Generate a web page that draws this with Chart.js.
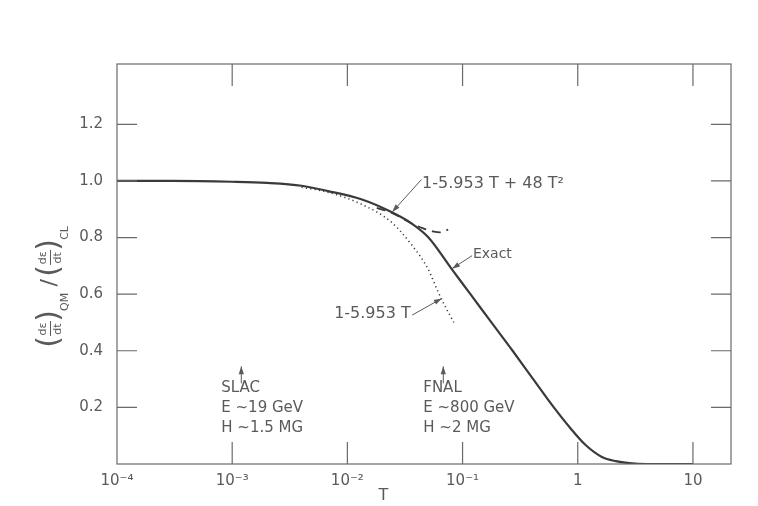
<!DOCTYPE html>
<html>
<head>
<meta charset="utf-8">
<script src="https://cdn.jsdelivr.net/npm/chart.js@4.4.1/dist/chart.umd.min.js"></script>
<style>
html,body{margin:0;padding:0;background:#fff;}
#wrap{width:758px;height:506px;position:relative;}
</style>
</head>
<body>
<div id="wrap"><canvas id="c" width="758" height="506"></canvas></div>
<script>
// ---- data ----
const exactT = [1e-4, 3e-4, 1e-3, 2e-3, 4e-3, 0.0068, 0.0132, 0.0241, 0.036, 0.0506, 0.080, 0.117, 0.178, 0.272, 0.41, 0.62, 0.85, 1.17, 1.62, 2.14, 2.8, 4, 10];
const exactY = [1.0, 1.0, 0.997, 0.993, 0.983, 0.964, 0.935, 0.890, 0.850, 0.800, 0.690, 0.600, 0.500, 0.400, 0.300, 0.200, 0.130, 0.067, 0.025, 0.010, 0.003, 0.0, 0.0];

const linT = [0.004, 0.0068, 0.0132, 0.024, 0.036, 0.050, 0.0618, 0.072, 0.084];
const linY = [0.978, 0.960, 0.918, 0.855, 0.775, 0.690, 0.605, 0.550, 0.500];

const quadT = [0.018, 0.024, 0.030, 0.036, 0.045, 0.055, 0.064, 0.075];
const quadY = [0.905, 0.888, 0.868, 0.850, 0.833, 0.822, 0.818, 0.828];

const xTickValues = [1e-4, 1e-3, 1e-2, 1e-1, 1, 10];
const xTickLabels = ['10\u207B\u2074', '10\u207B\u00B3', '10\u207B\u00B2', '10\u207B\u00B9', '1', '10'];
const yTickValues = [0.2, 0.4, 0.6, 0.8, 1.0, 1.2];
const yTickLabels = ['0.2', '0.4', '0.6', '0.8', '1.0', '1.2'];

const xTitle = 'T';
const labelQuad = '1-5.953 T + 48 T\u00B2';
const labelLin = '1-5.953 T';
const labelExact = 'Exact';
const slacLines = ['SLAC', 'E ~19 GeV', 'H ~1.5 MG'];
const fnalLines = ['FNAL', 'E ~800 GeV', 'H ~2 MG'];
const slacT = 1.2e-3, fnalT = 0.068;

const pts = (xs, ys) => xs.map((x, i) => ({x: x, y: ys[i]}));
const INK = '#3a3a3a', TXT = '#5a5a5a', FRAME = '#6a6a6a';
const FONT = '"DejaVu Sans", "Liberation Sans", sans-serif';

function arrow(ctx, x1, y1, x2, y2) {
  ctx.beginPath(); ctx.moveTo(x1, y1); ctx.lineTo(x2, y2); ctx.stroke();
  const a = Math.atan2(y2 - y1, x2 - x1), L = 8, W = 2.6;
  ctx.beginPath();
  ctx.moveTo(x2, y2);
  ctx.lineTo(x2 - L*Math.cos(a) + W*Math.sin(a), y2 - L*Math.sin(a) - W*Math.cos(a));
  ctx.lineTo(x2 - L*Math.cos(a) - W*Math.sin(a), y2 - L*Math.sin(a) + W*Math.cos(a));
  ctx.closePath(); ctx.fill();
}

const decor = {
  id: 'decor',
  afterDraw(chart) {
    const {ctx, chartArea: a, scales: {x, y}} = chart;
    ctx.save();
    // frame
    ctx.strokeStyle = FRAME; ctx.lineWidth = 1.2;
    ctx.strokeRect(a.left, a.top, a.right - a.left, a.bottom - a.top);
    // inward ticks
    ctx.beginPath();
    yTickValues.forEach(v => {
      const py = y.getPixelForValue(v);
      ctx.moveTo(a.left, py); ctx.lineTo(a.left + 20, py);
      ctx.moveTo(a.right, py); ctx.lineTo(a.right - 20, py);
    });
    xTickValues.slice(1).forEach(v => {
      const px = x.getPixelForValue(v);
      ctx.moveTo(px, a.bottom); ctx.lineTo(px, a.bottom - 22);
      ctx.moveTo(px, a.top); ctx.lineTo(px, a.top + 22);
    });
    ctx.stroke();

    ctx.fillStyle = TXT; ctx.strokeStyle = TXT; ctx.lineWidth = 1;
    // x title
    ctx.font = '16px ' + FONT; ctx.textAlign = 'center'; ctx.textBaseline = 'middle';
    ctx.fillText(xTitle, x.getPixelForValue(0.0205), 496);

    // annotations (anchored in data coordinates)
    ctx.font = '16px ' + FONT; ctx.textAlign = 'left';
    ctx.fillText(labelQuad, x.getPixelForValue(0.0445), y.getPixelForValue(0.99));
    arrow(ctx, x.getPixelForValue(0.044), y.getPixelForValue(1.005), x.getPixelForValue(0.0245), y.getPixelForValue(0.89));

    ctx.font = '14px ' + FONT;
    ctx.fillText(labelExact, x.getPixelForValue(0.123), y.getPixelForValue(0.74));
    arrow(ctx, x.getPixelForValue(0.121), y.getPixelForValue(0.736), x.getPixelForValue(0.081), y.getPixelForValue(0.69));

    ctx.font = '16px ' + FONT; ctx.textAlign = 'right';
    ctx.fillText(labelLin, x.getPixelForValue(0.0355), y.getPixelForValue(0.53));
    arrow(ctx, x.getPixelForValue(0.0365), y.getPixelForValue(0.526), x.getPixelForValue(0.066), y.getPixelForValue(0.585));

    // SLAC / FNAL
    ctx.textAlign = 'left'; ctx.font = '15px ' + FONT;
    [[slacT, slacLines], [fnalT, fnalLines]].forEach(([t, lines]) => {
      const px = x.getPixelForValue(t);
      arrow(ctx, px, y.getPixelForValue(0.285), px, y.getPixelForValue(0.345));
      lines.forEach((s, i) => ctx.fillText(s, px - 20, y.getPixelForValue(0.267 - i * 0.07)));
    });

    // y-axis title, rotated
    ctx.save();
    ctx.translate(50, 346);
    ctx.rotate(-Math.PI / 2);
    ctx.textBaseline = 'middle'; ctx.textAlign = 'center';
    let cx = 0;
    const paren = (ch) => { ctx.font = '30px ' + FONT; ctx.fillText(ch, cx + 4, 0); cx += 9; };
    const frac = () => {
      ctx.font = '11px ' + FONT;
      ctx.fillText('d\u03B5', cx + 8, -7);
      ctx.fillText('dt', cx + 8, 8);
      ctx.beginPath(); ctx.moveTo(cx + 1, 0.5); ctx.lineTo(cx + 16, 0.5); ctx.stroke();
      cx += 17;
    };
    const sub = (s) => { ctx.font = '11px ' + FONT; ctx.textAlign = 'left'; ctx.fillText(s, cx, 15); cx += ctx.measureText(s).width + 4; ctx.textAlign = 'center'; };
    paren('('); frac(); paren(')'); sub('QM');
    ctx.font = '22px ' + FONT; ctx.fillText('/', cx + 6, 0); cx += 14;
    paren('('); frac(); paren(')'); sub('CL');
    ctx.restore();

    ctx.restore();
  }
};

new Chart(document.getElementById('c'), {
  type: 'line',
  data: {
    datasets: [
      {data: pts(exactT, exactY), borderColor: INK, borderWidth: 2.2, pointRadius: 0, cubicInterpolationMode: 'monotone', fill: false},
      {data: pts(linT, linY), borderColor: INK, borderWidth: 1.6, borderDash: [1.2, 3.2], pointRadius: 0, cubicInterpolationMode: 'monotone', fill: false},
      {data: pts(quadT, quadY), borderColor: INK, borderWidth: 1.8, borderDash: [9, 6], pointRadius: 0, cubicInterpolationMode: 'monotone', fill: false}
    ]
  },
  options: {
    responsive: false,
    animation: false,
    events: [],
    layout: {padding: {left: 0, right: 27, top: 64, bottom: 0}},
    plugins: {legend: {display: false}, tooltip: {enabled: false}},
    scales: {
      x: {
        type: 'logarithmic', min: 1e-4, max: 21.4,
        grid: {display: false, drawTicks: false}, border: {display: false},
        afterBuildTicks: s => { s.ticks = xTickValues.map(v => ({value: v})); },
        afterFit: s => { s.height = 42; },
        ticks: {
          autoSkip: false, maxRotation: 0, padding: 8, color: TXT,
          font: {family: FONT, size: 15},
          callback: v => { const i = xTickValues.findIndex(t => Math.abs(Math.log10(t) - Math.log10(v)) < 1e-6); return i >= 0 ? xTickLabels[i] : ''; }
        }
      },
      y: {
        type: 'linear', min: 0, max: 1.413,
        grid: {display: false, drawTicks: false}, border: {display: false},
        afterBuildTicks: s => { s.ticks = yTickValues.map(v => ({value: v})); },
        afterFit: s => { s.width = 117; },
        ticks: {
          padding: 14, color: TXT, font: {family: FONT, size: 15},
          callback: v => { const i = yTickValues.findIndex(t => Math.abs(t - v) < 1e-6); return i >= 0 ? yTickLabels[i] : ''; }
        }
      }
    }
  },
  plugins: [decor]
});
</script>
</body>
</html>
